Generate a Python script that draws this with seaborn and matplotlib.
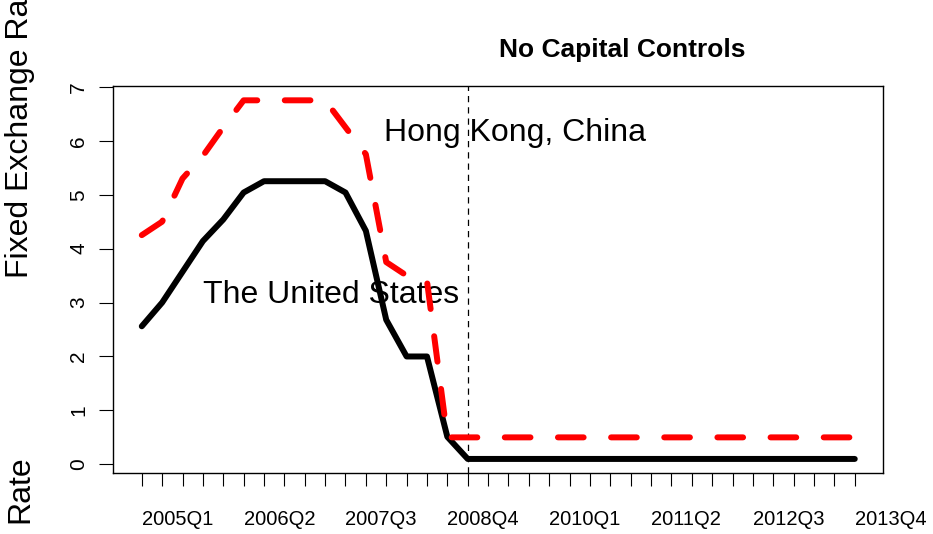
import matplotlib
matplotlib.use("Agg")
import pandas as pd
import matplotlib.pyplot as plt
import seaborn as sns

# -----------------------------
# data (quarterly, 2005Q1 - 2013Q4)
# -----------------------------
quarters = [
    "2005Q1", "2005Q2", "2005Q3", "2005Q4",
    "2006Q1", "2006Q2", "2006Q3", "2006Q4",
    "2007Q1", "2007Q2", "2007Q3", "2007Q4",
    "2008Q1", "2008Q2", "2008Q3", "2008Q4",
    "2009Q1", "2009Q2", "2009Q3", "2009Q4",
    "2010Q1", "2010Q2", "2010Q3", "2010Q4",
    "2011Q1", "2011Q2", "2011Q3", "2011Q4",
    "2012Q1", "2012Q2", "2012Q3", "2012Q4",
    "2013Q1", "2013Q2", "2013Q3", "2013Q4",
]
us_rate = [
    2.56, 3.00, 3.57, 4.14, 4.54, 5.04, 5.25, 5.25, 5.25, 5.25, 5.04, 4.33,
    2.68, 2.00, 2.00, 0.51, 0.10, 0.10, 0.10, 0.10, 0.10, 0.10, 0.10, 0.10,
    0.10, 0.10, 0.10, 0.10, 0.10, 0.10, 0.10, 0.10, 0.10, 0.10, 0.10, 0.10,
]
hk_rate = [
    4.25, 4.50, 5.30, 5.72, 6.25, 6.75, 6.75, 6.75, 6.75, 6.75, 6.25, 5.75,
    3.75, 3.50, 3.40, 0.50, 0.50, 0.50, 0.50, 0.50, 0.50, 0.50, 0.50, 0.50,
    0.50, 0.50, 0.50, 0.50, 0.50, 0.50, 0.50, 0.50, 0.50, 0.50, 0.50, 0.50,
]
tick_labels = ["2005Q1", "2006Q2", "2007Q3", "2008Q4",
               "2010Q1", "2011Q2", "2012Q3", "2013Q4"]
break_quarter = "2009Q1"

df = pd.DataFrame({"quarter": quarters, "us": us_rate, "hk": hk_rate})
df["t"] = range(len(df))

# -----------------------------
# plot
# -----------------------------
sns.set_style("white")
plt.rcParams["font.family"] = ["Liberation Sans", "DejaVu Sans"]
plt.rcParams["text.color"] = "black"
plt.rcParams["xtick.color"] = "black"
plt.rcParams["ytick.color"] = "black"

fig = plt.figure(figsize=(9.33, 5.34), dpi=100)
ax = fig.add_axes([0.1214, 0.1137, 0.8253, 0.7253])

sns.lineplot(data=df, x="t", y="us", color="black", lw=4.3, ax=ax,
             solid_capstyle="round", solid_joinstyle="round", zorder=3)
sns.lineplot(data=df, x="t", y="hk", color="red", lw=4.3, ax=ax,
             linestyle=(0, (4.3, 4.6)), dash_capstyle="round",
             dash_joinstyle="round", zorder=4)

ax.axvline(quarters.index(break_quarter), color="black", lw=0.9,
           linestyle=(0, (5, 4)), zorder=2)

ax.text(18.3, 6.0, "Hong Kong, China", ha="center", va="baseline",
        fontsize=23, zorder=2.5)
ax.text(9.3, 3.0, "The United States", ha="center", va="baseline",
        fontsize=23, zorder=2.5)

# axes, R style
ax.set_xlim(-1.4, 36.4)
ax.set_ylim(-0.166, 7.016)
ax.set_xlabel("")
ax.set_ylabel("")

xlabels = [""] * len(quarters)
for lab in tick_labels:
    xlabels[quarters.index(lab)] = lab
ax.set_xticks(range(len(quarters)))
ax.set_xticklabels(xlabels, fontsize=14.5)
for lab in ax.get_xticklabels():
    lab.set_ha("left")

ax.set_yticks(range(8))
ax.set_yticklabels([str(v) for v in range(8)], fontsize=15, rotation=90)
for lab in ax.get_yticklabels():
    lab.set_va("center")

ax.tick_params(axis="x", direction="out", length=9.5, width=0.8, pad=17,
               bottom=True)
ax.tick_params(axis="y", direction="out", length=10, width=0.8, pad=8,
               left=True)
for sp in ax.spines.values():
    sp.set_visible(True)
    sp.set_color("black")
    sp.set_linewidth(1.0)

fig.text(0.667, 476.7 / 534, "No Capital Controls", ha="center",
         va="baseline", fontsize=19, fontweight="bold")
fig.text(20 / 933, 256 / 534, "Fixed Exchange Rate", rotation=90,
         ha="center", va="bottom", fontsize=23)
fig.text(20 / 933, 11 / 534, "Rate", rotation=90, ha="center",
         va="bottom", fontsize=23)

fig.savefig("out.png", dpi=100)
